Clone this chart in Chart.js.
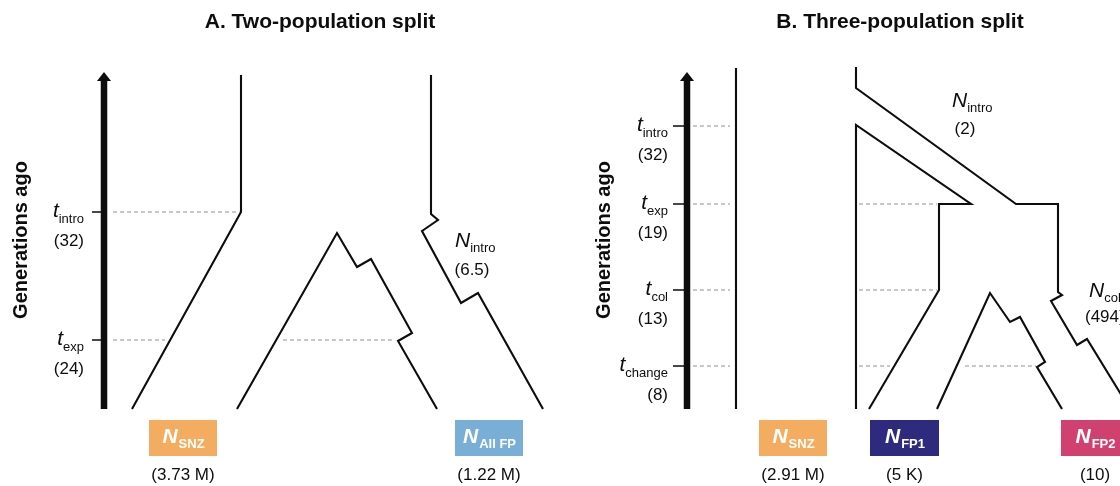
<!DOCTYPE html>
<html><head><meta charset="utf-8">
<script src="https://cdn.jsdelivr.net/npm/chart.js@4.4.1/dist/chart.umd.min.js"></script>
<style>html,body{margin:0;padding:0;background:#fff}#wrap{width:1120px;height:486px;position:relative}</style>
</head><body><div id="wrap"><canvas id="c" width="1120" height="486"></canvas></div>
<script>
// ---------- DATA (schematic diagram units: x across, y down) ----------
const panelTitles = ['A. Two-population split', 'B. Three-population split'];
const axisTitle = 'Generations ago';

// time events (panel A / panel B)
const timeKeysA = ['intro', 'exp'];
const timeGensA = [32, 24];
const timeLevelA = [212, 340];
const timeKeysB = ['intro', 'exp', 'col', 'change'];
const timeGensB = [32, 19, 13, 8];
const timeLevelB = [126, 204, 290, 366];

// present-day populations
const popNamesA = ['SNZ', 'All FP'];
const popSizesA = ['3.73 M', '1.22 M'];
const popNamesB = ['SNZ', 'FP1', 'FP2'];
const popSizesB = ['2.91 M', '5 K', '10'];
const popColorsA = ['#F3AC60', '#79AFD6'];
const popColorsB = ['#F3AC60', '#2E2B7F', '#D1416F'];

// bottleneck sizes
const bottleNamesA = ['intro'];
const bottleSizesA = ['6.5'];
const bottleNamesB = ['intro', 'col'];
const bottleSizesB = ['2', '494'];

// branch outlines (schematic vertices)
const branchA1 = [[241,75],[241,212],[132,409]];
const branchA2 = [[237,409],[337,233],[357,267],[371,259],[412,333],[398,341],[437,409]];
const branchA3 = [[431,75],[431,214],[438,220],[422,231],[461,303],[478,293],[543,409]];
const branchB1 = [[736,68],[736,409]];
const branchB2 = [[856,67],[856,88],[1016,204],[1058,204],[1058,292],[1062,295],[1051,301],[1077,345],[1087,339],[1130,409]];
const branchB3 = [[856,409],[856,125],[971,204],[939,204],[939,290],[869,409]];
const branchB4 = [[937,409],[990,293],[1010,322],[1020,317],[1045,362],[1037,367],[1062,409]];
// dashed guides inside the diagram: [xStart, xEnd, level]
const guidesA = [[113,240,212],[113,165,340],[283,393,340]];
const guidesB = [[693,730,126],[693,730,204],[693,730,290],[693,730,366],[859,937,204],[859,937,290],[859,890,366],[965,1036,366]];
// time arrows: [x, bottom, top]
const arrowsA = [104, 409, 72];
const arrowsB = [687, 409, 72];
// population boxes: [x0, x1] on y-band 420-456
const boxSpanA = [[149,217],[455,523]];
const boxSpanB = [[759,827],[870,939],[1061,1129]];

// ---------- BUILD ----------
const FONT = '"Liberation Sans", Arial, Helvetica, sans-serif';
const INK = '#0d0d0d';
const pts = a => a.map(p => ({x: p[0], y: p[1]}));
const datasets = [];
function addLine(arr, opt) {
  datasets.push(Object.assign({data: pts(arr), borderColor: INK, borderWidth: 2.1, pointRadius: 0,
    showLine: true, fill: false, tension: 0, borderJoinStyle: 'miter', borderCapStyle: 'butt'}, opt || {}));
}
function addShape(arr, color) {
  datasets.push({data: pts(arr), borderColor: color, borderWidth: 0, pointRadius: 0, showLine: true,
    fill: 'shape', backgroundColor: color, tension: 0});
}
[...guidesA, ...guidesB].forEach(g => addLine([[g[0], g[2]], [g[1], g[2]]], {borderColor: '#929292', borderWidth: 1, borderDash: [4, 3]}));
[[arrowsA, timeLevelA, 92], [arrowsB, timeLevelB, 673]].forEach(([a, levels, tx]) => {
  addLine([[a[0], a[1]], [a[0], a[2] + 8]], {borderWidth: 6.5});
  addShape([[a[0] - 7, a[2] + 9], [a[0] + 7, a[2] + 9], [a[0], a[2]], [a[0] - 7, a[2] + 9]], INK);
  levels.forEach(l => addLine([[tx, l], [a[0], l]], {borderWidth: 1.5}));
});
[branchA1, branchA2, branchA3, branchB1, branchB2, branchB3, branchB4].forEach(b => addLine(b));
boxSpanA.forEach((s, i) => addShape([[s[0],420],[s[1],420],[s[1],456],[s[0],456],[s[0],420]], popColorsA[i]));
boxSpanB.forEach((s, i) => addShape([[s[0],420],[s[1],420],[s[1],456],[s[0],456],[s[0],420]], popColorsB[i]));

function subLabel(ctx, x, y, main, sub, o) {
  ctx.font = o.mainFont; const w1 = ctx.measureText(main).width;
  ctx.font = o.subFont; const w2 = ctx.measureText(sub).width;
  let x0 = x;
  if (o.align === 'right') x0 = x - w1 - w2; else if (o.align === 'center') x0 = x - (w1 + w2) / 2;
  ctx.fillStyle = o.color; ctx.textAlign = 'left'; ctx.textBaseline = 'alphabetic';
  ctx.font = o.mainFont; ctx.fillText(main, x0, y);
  ctx.font = o.subFont; ctx.fillText(sub, x0 + w1 + (o.gap || 0), y + o.drop);
}

const textPlugin = {
  id: 'diagramText',
  afterDatasetsDraw(chart) {
    const ctx = chart.ctx, X = v => chart.scales.x.getPixelForValue(v), Y = v => chart.scales.y.getPixelForValue(v);
    ctx.save();
    // titles
    ctx.fillStyle = INK; ctx.font = 'bold 21px ' + FONT; ctx.textAlign = 'center'; ctx.textBaseline = 'alphabetic';
    ctx.fillText(panelTitles[0], X(320), Y(28));
    ctx.fillText(panelTitles[1], X(900), Y(28));
    // axis titles
    [[27, 240], [610, 240]].forEach(([bx, cy]) => {
      ctx.save(); ctx.translate(X(bx), Y(cy)); ctx.rotate(-Math.PI / 2);
      ctx.font = 'bold 20px ' + FONT; ctx.textAlign = 'center'; ctx.fillStyle = INK; ctx.fillText(axisTitle, 0, 0);
      ctx.restore();
    });
    const tOpt = {mainFont: 'italic 21px ' + FONT, subFont: '13px ' + FONT, drop: 6, align: 'right', color: INK};
    [[timeKeysA, timeGensA, timeLevelA, 84], [timeKeysB, timeGensB, timeLevelB, 668]].forEach(([keys, gens, lv, rx]) => {
      keys.forEach((k, i) => {
        subLabel(ctx, X(rx), Y(lv[i] + 5), 't', k, tOpt);
        ctx.font = '17px ' + FONT; ctx.textAlign = 'right'; ctx.fillStyle = INK;
        ctx.fillText('(' + gens[i] + ')', X(rx), Y(lv[i] + 34));
      });
    });
    // bottleneck labels
    const nOpt = {mainFont: 'italic 21px ' + FONT, subFont: '13px ' + FONT, drop: 5, align: 'left', color: INK};
    const bl = [[bottleNamesA[0], bottleSizesA[0], 455, 247, 472, 275, 'center'],
                [bottleNamesB[0], bottleSizesB[0], 952, 107, 965, 134, 'center'],
                [bottleNamesB[1], bottleSizesB[1], 1089, 297, 1085, 322, 'left']];
    bl.forEach(([n, s, nx, ny, vx, vy, al]) => {
      subLabel(ctx, X(nx), Y(ny), 'N', n, nOpt);
      ctx.font = '17px ' + FONT; ctx.textAlign = al; ctx.fillStyle = INK;
      ctx.fillText('(' + s + ')', X(vx), Y(vy));
    });
    // population boxes
    const bOpt = {mainFont: 'italic bold 21px ' + FONT, subFont: 'bold 13px ' + FONT, drop: 5, align: 'center', color: '#fff', gap: 1};
    [[boxSpanA, popNamesA, popSizesA], [boxSpanB, popNamesB, popSizesB]].forEach(([spans, names, sizes]) => {
      spans.forEach((s, i) => {
        const cx = (s[0] + s[1]) / 2;
        subLabel(ctx, X(cx), Y(443), 'N', names[i], bOpt);
        ctx.font = '17px ' + FONT; ctx.textAlign = 'center'; ctx.fillStyle = INK;
        ctx.fillText('(' + sizes[i] + ')', X(cx), Y(480));
      });
    });
    ctx.restore();
  }
};

new Chart(document.getElementById('c'), {
  type: 'scatter',
  data: {datasets},
  options: {
    responsive: false, animation: false, devicePixelRatio: 1,
    layout: {padding: 0},
    plugins: {legend: {display: false}, tooltip: {enabled: false}, title: {display: false}},
    scales: {
      x: {type: 'linear', min: 0, max: 1120, display: false},
      y: {type: 'linear', min: 0, max: 486, reverse: true, display: false}
    },
    elements: {line: {tension: 0}}
  },
  plugins: [textPlugin]
});
</script></body></html>
